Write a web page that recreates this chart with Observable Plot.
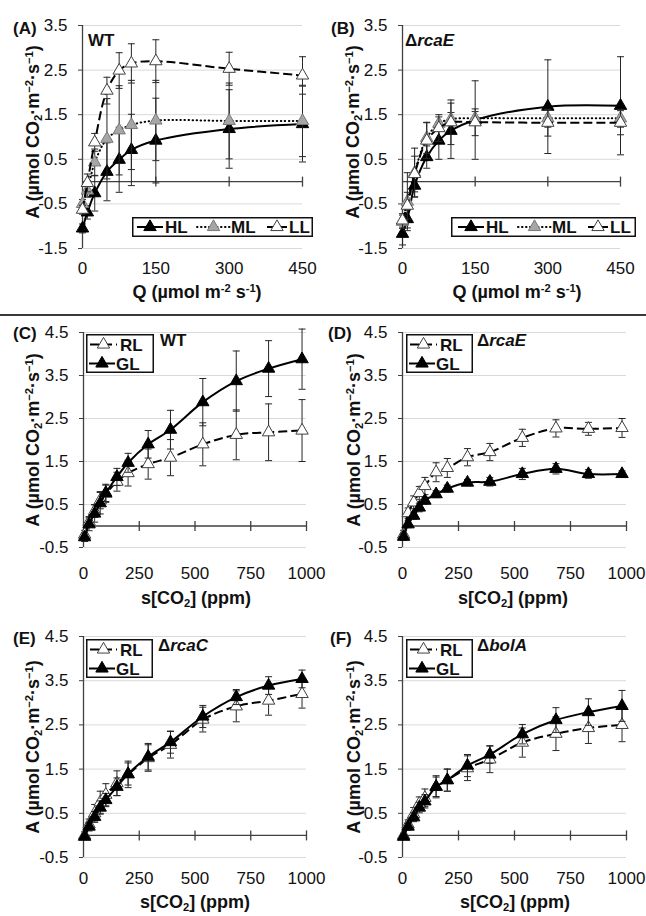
<!DOCTYPE html>
<html><head><meta charset="utf-8">
<script src="https://cdn.jsdelivr.net/npm/d3@7"></script>
<script src="https://cdn.jsdelivr.net/npm/@observablehq/plot@0.6"></script>
<style>
body{margin:0;background:#fff;}
#root{position:relative;width:646px;height:916px;overflow:hidden;font-family:"Liberation Sans",Arial,sans-serif;color:#111;background:#fff;}
.pnl{position:absolute;}
.t{position:absolute;white-space:nowrap;line-height:1;font-weight:bold;}
.t sup,.t sub{font-size:0.62em;line-height:0;position:relative;vertical-align:baseline;}
.t sup{top:-0.5em;} .t sub{top:0.3em;}
.lg{position:absolute;}
</style></head><body><div id="root"></div><script>
// ---------- data ----------
const Q_LEVELS = [0, 10, 25, 50, 75, 100, 150, 300, 450];
const CO2_LEVELS = [5, 25, 50, 75, 100, 150, 200, 290, 390, 535, 685, 830, 980];
const Q_TICKS = [0, 150, 300, 450];
const CO2_TICKS = [0, 250, 500, 750, 1000];
const Y_TICKS_AB = [-1.5, -0.5, 0.5, 1.5, 2.5, 3.5];
const Y_TICKS_CF = [-0.5, 0.5, 1.5, 2.5, 3.5, 4.5];

// (A) WT light response
const WT_HL    = [-1.05, -0.69, -0.26, 0.22, 0.49, 0.71, 0.92, 1.18, 1.29];
const WT_HL_SD = [0.10, 0.15, 0.40, 0.65, 0.73, 0.80, 0.95, 0.88, 0.85];
const WT_ML    = [-0.50, -0.20, 0.43, 0.96, 1.15, 1.27, 1.37, 1.36, 1.36];
const WT_ML_SD = [0.10, 0.15, 0.30, 0.90, 1.00, 1.00, 0.90, 0.85, 0.80];
const WT_LL    = [-0.63, -0.03, 0.88, 2.04, 2.49, 2.65, 2.70, 2.53, 2.38];
const WT_LL_SD = [0.10, 0.20, 0.20, 0.30, 0.40, 0.44, 0.48, 0.37, 0.42];
// (B) rcaE light response
const RE_HL    = [-1.17, -0.84, -0.09, 0.55, 0.92, 1.14, 1.38, 1.68, 1.70];
const RE_HL_SD = [0.25, 0.20, 0.25, 0.25, 0.42, 0.62, 0.88, 1.05, 1.10];
const RE_ML    = [-0.90, -0.45, 0.20, 0.98, 1.30, 1.40, 1.42, 1.42, 1.42];
const RE_ML_SD = [0.15, 0.65, 0.55, 0.35, 0.15, 0.15, 0.15, 0.20, 0.20];
const RE_LL    = [-0.87, -0.54, 0.17, 0.92, 1.20, 1.33, 1.33, 1.32, 1.32];
const RE_LL_SD = [0.15, 0.30, 0.40, 0.40, 0.30, 0.50, 0.30, 0.30, 0.27];
// (C) WT CO2 response
const C_WT_RL    = [-0.20, 0.10, 0.35, 0.60, 0.75, 1.03, 1.23, 1.44, 1.59, 1.90, 2.12, 2.18, 2.22];
const C_WT_RL_SD = [0.10, 0.12, 0.15, 0.20, 0.20, 0.22, 0.30, 0.35, 0.42, 0.50, 0.58, 0.66, 0.72];
const C_WT_GL    = [-0.26, 0.04, 0.29, 0.53, 0.77, 1.14, 1.47, 1.90, 2.24, 2.88, 3.37, 3.66, 3.88];
const C_WT_GL_SD = [0.10, 0.15, 0.20, 0.25, 0.20, 0.20, 0.22, 0.32, 0.45, 0.55, 0.70, 0.65, 0.70];
// (D) rcaE CO2 response
const C_RE_RL    = [-0.20, 0.30, 0.55, 0.77, 0.93, 1.25, 1.35, 1.60, 1.72, 2.05, 2.27, 2.26, 2.28];
const C_RE_RL_SD = [0.10, 0.12, 0.15, 0.15, 0.20, 0.22, 0.22, 0.20, 0.20, 0.20, 0.20, 0.15, 0.22];
const C_RE_GL    = [-0.25, 0.04, 0.24, 0.43, 0.59, 0.74, 0.87, 1.01, 1.03, 1.21, 1.33, 1.21, 1.21];
const C_RE_GL_SD = [0.08, 0.08, 0.08, 0.10, 0.08, 0.08, 0.08, 0.07, 0.10, 0.13, 0.12, 0.10, 0.07];
// (E) rcaC CO2 response
const C_RC_RL    = [0.00, 0.25, 0.50, 0.75, 0.92, 1.18, 1.38, 1.75, 2.05, 2.62, 2.92, 3.05, 3.20];
const C_RC_RL_SD = [0.08, 0.12, 0.20, 0.25, 0.25, 0.28, 0.30, 0.30, 0.30, 0.28, 0.35, 0.33, 0.32];
const C_RC_GL    = [-0.03, 0.20, 0.42, 0.63, 0.80, 1.10, 1.39, 1.78, 2.11, 2.69, 3.13, 3.39, 3.54];
const C_RC_GL_SD = [0.05, 0.10, 0.12, 0.15, 0.15, 0.20, 0.25, 0.30, 0.25, 0.25, 0.17, 0.20, 0.20];
// (F) bolA CO2 response
const C_BA_RL    = [0.00, 0.25, 0.48, 0.72, 0.85, 1.10, 1.25, 1.52, 1.72, 2.10, 2.30, 2.43, 2.50];
const C_BA_RL_SD = [0.05, 0.10, 0.15, 0.15, 0.20, 0.22, 0.25, 0.28, 0.30, 0.33, 0.38, 0.35, 0.38];
const C_BA_GL    = [-0.03, 0.20, 0.41, 0.63, 0.77, 1.10, 1.25, 1.58, 1.83, 2.29, 2.61, 2.79, 2.93];
const C_BA_GL_SD = [0.05, 0.08, 0.10, 0.12, 0.15, 0.25, 0.25, 0.25, 0.20, 0.22, 0.28, 0.30, 0.35];

// ---------- styles ----------
const FONT = '"Liberation Sans", Arial, sans-serif';
const TRI_R = 4.6;
const STYLE = {
  HL: {line:"#000", width:2, dash:null, cap:"butt", fill:"#000", mstroke:"#000"},
  GL: {line:"#000", width:2, dash:null, cap:"butt", fill:"#000", mstroke:"#000"},
  ML: {line:"#000", width:2, dash:"0.5,3.5", cap:"round", fill:"#a6a6a6", mstroke:"#7a7a7a"},
  LL: {line:"#000", width:2, dash:"9,4", cap:"butt", fill:"#fff", mstroke:"#404040"},
  RL: {line:"#000", width:2, dash:"9,4", cap:"butt", fill:"#fff", mstroke:"#404040"}
};
const capSym = {draw(ctx, size){const w = Math.sqrt(size/Math.PI); ctx.moveTo(-w,0); ctx.lineTo(w,0);}};
const vSym = {draw(ctx, size){const h = Math.sqrt(size/Math.PI); ctx.moveTo(0,-h); ctx.lineTo(0,h);}};

const root = document.getElementById("root");

function makePanel(c) {
  const marks = [
    Plot.ruleY(c.yTicks, {stroke:"#d9d9d9", strokeWidth:1}),
    Plot.axisY({ticks:c.yTicks, tickFormat:d=>d.toFixed(1), tickSize:4, tickPadding:11, fontSize:17, label:null, stroke:"#404040", fill:"#111"}),
    Plot.axisX({ticks:c.xTicks, tickFormat:d=>String(d), tickSize:0, tickPadding:c.xPad, fontSize:17, label:null, fill:"#111"}),
    Plot.ruleX([c.xDomain[0]], {stroke:"#404040", strokeWidth:1.3}),
    Plot.ruleY([0], {stroke:"#404040", strokeWidth:1.3}),
    Plot.dot(c.xTicks.filter(t=>t>0), {x:d=>d, y:()=>0, symbol:vSym, r:5, stroke:"#404040", fill:"none", strokeWidth:1.3})
  ];
  for (const s of c.series) {
    const st = STYLE[s.key];
    const rows = c.x.map((xv,i)=>({x:xv, y:s.y[i], e:s.e[i]}));
    marks.push(
      Plot.ruleX(rows, {x:"x", y1:d=>d.y-d.e, y2:d=>d.y+d.e, stroke:"#262626", strokeWidth:1}),
      Plot.dot(rows, {x:"x", y:d=>d.y-d.e, symbol:capSym, r:3.5, stroke:"#262626", fill:"none", strokeWidth:1}),
      Plot.dot(rows, {x:"x", y:d=>d.y+d.e, symbol:capSym, r:3.5, stroke:"#262626", fill:"none", strokeWidth:1}),
      Plot.line(rows, {x:"x", y:"y", curve:"catmull-rom", stroke:st.line, strokeWidth:st.width, strokeDasharray:st.dash, strokeLinecap:st.cap}),
      Plot.dot(rows, {x:"x", y:"y", symbol:"triangle", r:TRI_R, fill:st.fill, stroke:st.mstroke, strokeWidth:1})
    );
  }
  const svg = Plot.plot({
    width:c.w, height:c.h,
    marginTop:c.m[0], marginRight:c.m[1], marginBottom:c.m[2], marginLeft:c.m[3],
    x:{domain:c.xDomain}, y:{domain:c.yDomain},
    style:{fontFamily:FONT, overflow:"visible", background:"transparent", color:"#111"},
    marks
  });
  const div = document.createElement("div");
  div.className = "pnl";
  div.style.left = c.left+"px"; div.style.top = c.top+"px";
  div.appendChild(svg);
  root.appendChild(div);
}

const panels = [
  {left:0, top:0, w:323, h:305, m:[25,21,57,82], x:Q_LEVELS, xDomain:[0,450], xTicks:Q_TICKS, yDomain:[-1.5,3.5], yTicks:Y_TICKS_AB, xPad:13,
   series:[{key:"HL", y:WT_HL, e:WT_HL_SD},{key:"ML", y:WT_ML, e:WT_ML_SD},{key:"LL", y:WT_LL, e:WT_LL_SD}]},
  {left:323, top:0, w:323, h:305, m:[25,26,57,79], x:Q_LEVELS, xDomain:[0,450], xTicks:Q_TICKS, yDomain:[-1.5,3.5], yTicks:Y_TICKS_AB, xPad:13,
   series:[{key:"HL", y:RE_HL, e:RE_HL_SD},{key:"ML", y:RE_ML, e:RE_ML_SD},{key:"LL", y:RE_LL, e:RE_LL_SD}]},
  {left:0, top:305, w:323, h:305, m:[27,17,63,83], x:CO2_LEVELS, xDomain:[0,1000], xTicks:CO2_TICKS, yDomain:[-0.5,4.5], yTicks:Y_TICKS_CF, xPad:19,
   series:[{key:"RL", y:C_WT_RL, e:C_WT_RL_SD},{key:"GL", y:C_WT_GL, e:C_WT_GL_SD}]},
  {left:323, top:305, w:323, h:305, m:[27,20,63,79], x:CO2_LEVELS, xDomain:[0,1000], xTicks:CO2_TICKS, yDomain:[-0.5,4.5], yTicks:Y_TICKS_CF, xPad:19,
   series:[{key:"RL", y:C_RE_RL, e:C_RE_RL_SD},{key:"GL", y:C_RE_GL, e:C_RE_GL_SD}]},
  {left:0, top:610, w:323, h:306, m:[26,17,59,83], x:CO2_LEVELS, xDomain:[0,1000], xTicks:CO2_TICKS, yDomain:[-0.5,4.5], yTicks:Y_TICKS_CF, xPad:14,
   series:[{key:"RL", y:C_RC_RL, e:C_RC_RL_SD},{key:"GL", y:C_RC_GL, e:C_RC_GL_SD}]},
  {left:323, top:610, w:323, h:306, m:[26,20,59,79], x:CO2_LEVELS, xDomain:[0,1000], xTicks:CO2_TICKS, yDomain:[-0.5,4.5], yTicks:Y_TICKS_CF, xPad:14,
   series:[{key:"RL", y:C_BA_RL, e:C_BA_RL_SD},{key:"GL", y:C_BA_GL, e:C_BA_GL_SD}]}
];
panels.forEach(makePanel);

// ---------- text ----------
function addText(html, o) {
  const fs = o.fs || 17;
  const el = document.createElement("div");
  el.className = "t";
  el.innerHTML = html;
  el.style.fontSize = fs+"px";
  el.style.left = o.x+"px";
  if (o.rotate) {
    el.style.top = o.cy+"px";
    el.style.transform = "translate(-50%,-50%) rotate(-90deg)";
  } else {
    el.style.top = (o.base - 0.8465*fs)+"px";
    if (o.middle) el.style.transform = "translateX(-50%)";
  }
  root.appendChild(el);
}
const QT = "Q (µmol m<sup>-2</sup> s<sup>-1</sup>)";
const CT = "s[CO<sub>2</sub>] (ppm)";
const YT = "A (µmol CO<sub>2</sub>·m<sup>−2</sup>·s<sup>−1</sup>)";
[["(A)",13,34.5],["WT",88,46.5],["(B)",331,34.5],["Δ<i>rcaE</i>",405,46.5],
 ["(C)",13,339],["WT",160,346],["(D)",328,339],["Δ<i>rcaE</i>",477,346],
 ["(E)",13,644],["Δ<i>rcaC</i>",158,651],["(F)",330,644],["Δ<i>bolA</i>",477,651]]
 .forEach(([h,x,b])=>addText(h,{x, base:b}));
[[QT,197,298],[QT,517,298],[CT,196,604],[CT,513,604],[CT,195,908],[CT,515,908]]
 .forEach(([h,x,b])=>addText(h,{x, base:b, fs:18, middle:true}));
[[33,132],[353,132],[33,440],[354,440],[33,747],[354,747]]
 .forEach(([x,cy])=>addText(YT,{x, cy, fs:18, rotate:true}));

// separator
const sep = document.createElement("div");
sep.style.cssText = "position:absolute;left:0;top:314px;width:646px;height:2px;background:#3a3a3a;";
root.appendChild(sep);

// ---------- legends ----------
const tri = d3.symbol(d3.symbolTriangle, Math.PI*TRI_R*TRI_R)();
function sample(key, x1, x2, y) {
  const st = STYLE[key];
  const cx = (x1+x2)/2;
  return `<line x1="${x1}" x2="${x2}" y1="${y}" y2="${y}" stroke="${st.line}" stroke-width="${st.width}" ${st.dash?`stroke-dasharray="${st.dash}"`:""} stroke-linecap="${st.cap}"/>`+
    `<path transform="translate(${cx},${y})" d="${tri}" fill="${st.fill}" stroke="${st.mstroke}" stroke-width="1"/>`;
}
function label(txt, x, y) {
  return `<text x="${x}" y="${y}" font-family='${FONT}' font-weight="bold" font-size="17" fill="#111">${txt}</text>`;
}
function addLegend(left, top, w, h, inner) {
  const el = document.createElement("div");
  el.className = "lg";
  el.style.left = left+"px"; el.style.top = top+"px";
  el.innerHTML = `<svg width="${w}" height="${h}" xmlns="http://www.w3.org/2000/svg"><rect x="0.75" y="0.75" width="${w-1.5}" height="${h-1.5}" fill="#fff" stroke="#111" stroke-width="1.5"/>${inner}</svg>`;
  root.appendChild(el);
}
function horiz(dx) {
  return sample("HL",5+dx,31+dx,10)+label("HL",33+dx,16)+
         sample("ML",65+dx,98+dx,10)+label("ML",99+dx,16)+
         sample("LL",135+dx,155+dx,10)+label("LL",157+dx,16);
}
addLegend(132,217,181,20,horiz(0));
addLegend(451,217,185,20,horiz(2));
function vert() {
  return sample("RL",4,31,10.5)+label("RL",34,16.5)+sample("GL",3,29,29.5)+label("GL",30,35.5);
}
addLegend(86,334,68,39,vert());
addLegend(406,334,67,39,vert());
addLegend(86,639,67,39,vert());
addLegend(406,639,67,39,vert());
</script></body></html>
